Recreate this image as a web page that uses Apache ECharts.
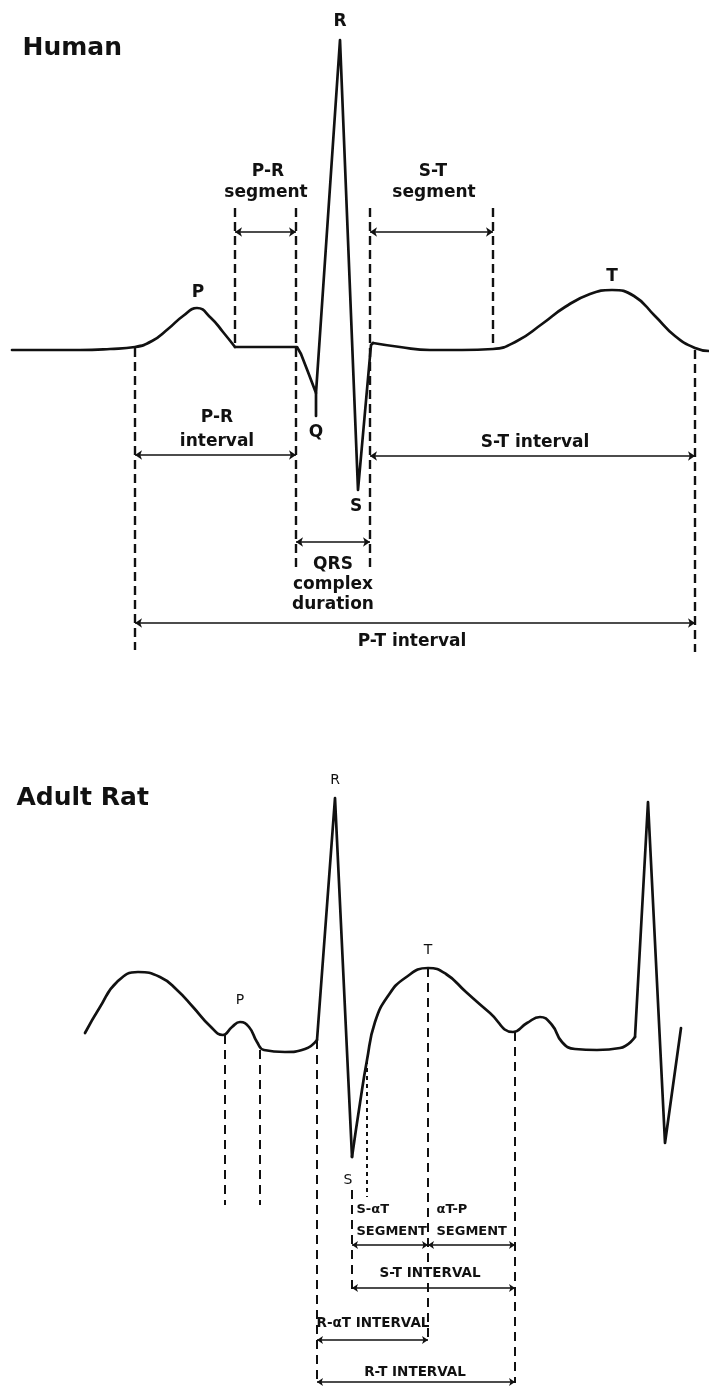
<!DOCTYPE html>
<html><head><meta charset="utf-8">
<script src="https://cdn.jsdelivr.net/npm/echarts@6/dist/echarts.min.js"></script>
<style>html,body{margin:0;padding:0;background:#fff}#chart{width:709px;height:1387px}</style>
</head><body><div id="chart"></div>
<script>
// ===== HUMAN ECG (x: time units, y: amplitude units, isoelectric baseline = 0) =====
const humanPWave = [[12,0],[45,0],[80,0],[110,1],[135,3],[152,9],[168,21],[183,34],[197,42],[211,32],[223,18],[235,3]];
const humanQRS = [[235,3],[297,3],[301,-4],[308,-22],[316,-43],[340,310],[358,-140],[371,5],[373,7]];
const humanSTT = [[373,7],[400,3],[430,0],[462,0],[493,1],[517,9],[542,26],[565,43],[590,56],[612,60],[634,54],[655,34],[675,14],[695,2],[709,-1]];
const humanQLeader = [[316,-43],[316,-66]];
// dashed markers: [x, top, bottom]
const humanDashed = [[135,2,-300],[235,142,3],[296,142,-218],[370,142,-218],[493,142,1],[695,0,-302]];
// double arrows: [xStart, xEnd, y]
const humanArrows = [[235,296,118],[370,493,118],[135,296,-105],[370,695,-106],[296,370,-192],[135,695,-273]];
// labels: [text, x, y]
const humanWaveLabels = [['P',198,57],['R',340,328],['T',612,73],['Q',316,-83],['S',356,-157]];
const humanIntervalLabels = [['P-R',268,178],['segment',266,157],['S-T',433,178],['segment',434,157],
  ['P-R',217,-68],['interval',217,-92],['S-T interval',535,-93],
  ['QRS',333,-215],['complex',333,-235],['duration',333,-255],['P-T interval',412,-292]];
const humanTitle = [['Human',22,302]];

// ===== ADULT RAT ECG =====
const ratPWave = [[85,7],[100,33],[117,58],[138,68],[160,63],[177,50],[193,33],[210,14],[223,5],[232,13],[240,18],[249,13],[257,-2],[264,-10],[285,-12],[305,-9],[317,0]];
const ratQRS = [[317,0],[335,242],[352,-117]];
const ratSTT = [[352,-117],[360,-63],[367,-20],[375,18],[388,44],[405,62],[428,72],[446,66],[466,48],[490,27],[513,8],[527,17],[540,23],[552,15],[562,-2],[575,-9],[597,-10],[620,-8],[635,3]];
const ratQRS2 = [[635,3],[648,238],[665,-103],[681,12]];
const ratDashed = [[225,5,-165],[260,-10,-165],[317,0,-343],[352,-150,-250],[428,72,-300],[515,8,-343]];
const ratDotted = [[367,-20,-157]];
const ratArrows = [[352,428,-205],[428,515,-205],[352,515,-248],[317,428,-300],[317,515,-342]];
const ratWaveLabels = [['R',335,260],['P',240,40],['T',428,90],['S',348,-140]];
const ratLeftLabels = [['S-αT',356,-170],['αT-P',436,-170],['SEGMENT',356,-192],['SEGMENT',436,-192]];
const ratCenterLabels = [['S-T INTERVAL',430,-233],['R-αT INTERVAL',373,-283],['R-T INTERVAL',415,-332]];
const ratTitle = [['Adult Rat',16,242]];

const INK = '#111';
const FONT = 'DejaVu Sans';

function trace(data, gi, smooth) {
  return {type:'line', xAxisIndex:gi, yAxisIndex:gi, data:data, smooth:smooth, symbol:'none',
    lineStyle:{color:INK, width:2.7, cap:'round', join:'round'}, silent:true, z:5};
}
function vlines(list, gi, width, dash) {
  return {type:'lines', coordinateSystem:'cartesian2d', xAxisIndex:gi, yAxisIndex:gi, silent:true,
    data:list.map(d => ({coords:[[d[0],d[1]],[d[0],d[2]]]})),
    lineStyle:{color:INK, width:width, type:dash, opacity:1}, z:3};
}
function arrows(list, gi, width, size) {
  return {type:'lines', coordinateSystem:'cartesian2d', xAxisIndex:gi, yAxisIndex:gi, silent:true,
    symbol:['arrow','arrow'], symbolSize:size,
    data:list.map(d => ({coords:[[d[0],d[2]],[d[1],d[2]]]})),
    lineStyle:{color:INK, width:width, type:'solid', opacity:1}, z:4};
}
function labels(list, gi, font, position) {
  return {type:'scatter', xAxisIndex:gi, yAxisIndex:gi, silent:true, symbolSize:1,
    itemStyle:{color:'rgba(0,0,0,0)', opacity:1},
    data:list.map(d => ({name:d[0], value:[d[1],d[2]]})),
    label:Object.assign({show:true, formatter:'{b}', position:position, distance:0, color:INK, fontFamily:FONT}, font), z:6};
}

const chart = echarts.init(document.getElementById('chart'), null, {renderer:'canvas'});
chart.setOption({
  animation:false,
  backgroundColor:'#fff',
  grid:[{left:0, top:0, width:709, height:700}, {left:0, top:700, width:709, height:687}],
  xAxis:[{type:'value', gridIndex:0, min:0, max:709, show:false},
         {type:'value', gridIndex:1, min:0, max:709, show:false}],
  yAxis:[{type:'value', gridIndex:0, min:-350, max:350, show:false},
         {type:'value', gridIndex:1, min:-347, max:340, show:false}],
  series:[
    trace(humanPWave,0,0.5), trace(humanQRS,0,false), trace(humanSTT,0,0.5), trace(humanQLeader,0,false),
    vlines(humanDashed,0,2.4,[9,5]),
    arrows(humanArrows,0,1.6,7),
    labels(humanWaveLabels,0,{fontSize:17, fontWeight:'bold'},'inside'),
    labels(humanIntervalLabels,0,{fontSize:17, fontWeight:'bold'},'inside'),
    labels(humanTitle,0,{fontSize:25, fontWeight:'bold'},'right'),

    trace(ratPWave,1,0.5), trace(ratQRS,1,false), trace(ratSTT,1,0.5), trace(ratQRS2,1,false),
    vlines(ratDashed,1,2,[9,6]),
    vlines(ratDotted,1,2,[4,4]),
    arrows(ratArrows,1,1.6,6),
    labels(ratWaveLabels,1,{fontSize:14},'inside'),
    labels(ratLeftLabels,1,{fontSize:13, fontWeight:'bold'},'right'),
    labels(ratCenterLabels,1,{fontSize:13.5, fontWeight:'bold'},'inside'),
    labels(ratTitle,1,{fontSize:25, fontWeight:'bold'},'right')
  ]
});
</script></body></html>
